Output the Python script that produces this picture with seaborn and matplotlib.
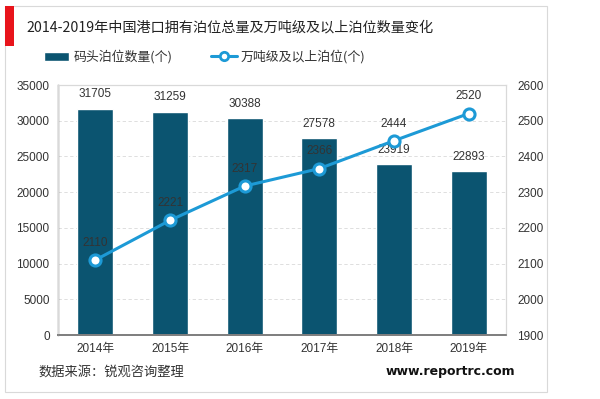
import matplotlib
matplotlib.use("Agg")
import matplotlib.pyplot as plt
import seaborn as sns
import pandas as pd
from matplotlib.patches import Rectangle
from matplotlib.lines import Line2D

years = ["2014年", "2015年", "2016年", "2017年", "2018年", "2019年"]
berths_total = [31705, 31259, 30388, 27578, 23919, 22893]
berths_10k = [2110, 2221, 2317, 2366, 2444, 2520]
left_ticks = [0, 5000, 10000, 15000, 20000, 25000, 30000, 35000]
right_ticks = [1900, 2000, 2100, 2200, 2300, 2400, 2500, 2600]

sns.set_theme(style="white")
plt.rcParams['font.family'] = ['Liberation Sans', 'Noto Sans CJK SC', 'DejaVu Sans']
cjk = ['Noto Sans CJK SC', 'DejaVu Sans']

bar_color = "#0b5470"
line_color = "#1d9ad6"
text_color = "#333333"

df = pd.DataFrame({"year": years, "total": berths_total, "big": berths_10k})

fig = plt.figure(figsize=(6, 3.99), dpi=100)
# card
fig.patches.append(Rectangle((5/600, 1-392/399), 542/600, 386/399, transform=fig.transFigure,
                             facecolor="white", edgecolor="#d9d9d9", lw=0.8, zorder=-10))
fig.patches.append(Rectangle((5/600, 1-46/399), 9/600, 40/399, transform=fig.transFigure,
                             facecolor="#e8141b", edgecolor="none", zorder=-5))
fig.text(26/600, 1-27/399, "2014-2019年中国港口拥有泊位总量及万吨级及以上泊位数量变化",
         fontsize=10.2, color="#222222", va="center", ha="left", family=cjk)

ax = fig.add_axes([58/600, 1-335/399, 448/600, 250/399])
ax.set_facecolor("none")
sns.barplot(data=df, x="year", y="total", color=bar_color, width=0.48, ax=ax, saturation=1)
ax.set_ylim(0, 35000)
ax.set_yticks(left_ticks)
ax.set_xlabel("")
ax.set_ylabel("")
for y in left_ticks[1:]:
    ax.axhline(y, color="#d9d9d9", lw=0.6, ls=(0, (4, 3)), zorder=0)
for i, v in enumerate(berths_total):
    ax.annotate(str(v), (i, v), xytext=(0, 6), textcoords="offset points",
                ha="center", va="bottom", fontsize=8.5, color=text_color)

ax2 = ax.twinx()
sns.lineplot(x=list(range(len(years))), y=berths_10k, ax=ax2, color=line_color, lw=2.2,
             marker="o", markersize=8, markerfacecolor="white", markeredgecolor=line_color,
             markeredgewidth=2.2)
ax2.set_ylim(1900, 2600)
ax2.set_yticks(right_ticks)
ax2.set_ylabel("")
for i, v in enumerate(berths_10k):
    ax2.annotate(str(v), (i, v), xytext=(0, 8), textcoords="offset points",
                 ha="center", va="bottom", fontsize=8.5, color=text_color)
ax.set_xlim(-0.5, 5.5)

for a in (ax, ax2):
    for s in a.spines.values():
        s.set_color("#d9d9d9")
        s.set_linewidth(0.8)
        s.set_visible(True)
    a.tick_params(axis="both", length=0, labelsize=8.5, colors=text_color, pad=6)
ax.spines["bottom"].set_color("#7f7f7f")
ax.spines["bottom"].set_linewidth(1.3)
ax.spines["left"].set_color("#7f7f7f")
ax.spines["left"].set_linewidth(1.0)
ax2.spines["bottom"].set_color("#7f7f7f")
ax2.spines["bottom"].set_linewidth(1.3)
ax2.tick_params(axis="y", pad=8)

handles = [Rectangle((0, 0), 1, 1, facecolor=bar_color),
           Line2D([0], [0], color=line_color, lw=2.2, marker="o", markersize=6,
                  markerfacecolor="white", markeredgecolor=line_color, markeredgewidth=2)]
fig.legend(handles, ["码头泊位数量(个)", "万吨级及以上泊位(个)"], loc="center left",
           bbox_to_anchor=(32/600, 1-57/399), ncol=2, frameon=False,
           prop={"family": cjk, "size": 9.3},
           handlelength=2.0, handletextpad=0.3, columnspacing=3.0, labelcolor=text_color)

fig.text(38/600, 1-372/399, "数据来源：锐观咨询整理", fontsize=9.5, color="#333333",
         va="center", ha="left", family=cjk)
fig.text(515/600, 1-372/399, "www.reportrc.com", fontsize=9, fontweight="bold",
         color="#111111", va="center", ha="right", family=["DejaVu Sans"])

fig.savefig("out.png", dpi=100)
